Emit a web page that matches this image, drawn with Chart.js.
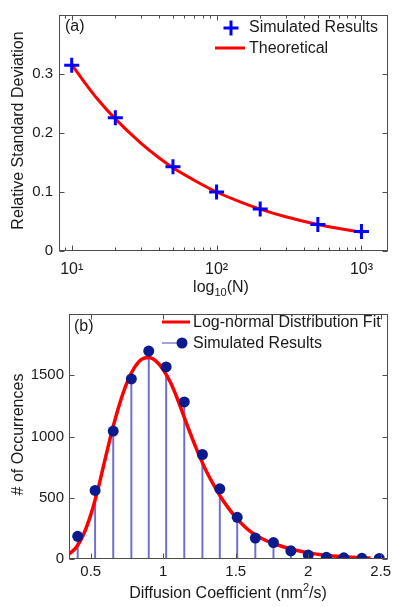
<!DOCTYPE html>
<html><head><meta charset="utf-8">
<script src="https://cdn.jsdelivr.net/npm/chart.js@4.4.0/dist/chart.umd.min.js"></script>
<style>
html,body{margin:0;padding:0;background:#fff;}
#wrap{position:relative;width:400px;height:607px;background:#fff;}
canvas{position:absolute;left:0;}
#c1{top:0;} #c2{top:300px;}
</style></head><body>
<div id="wrap"><canvas id="c1" width="400" height="300"></canvas><canvas id="c2" width="400" height="307"></canvas></div>
<script>
// ---------- Panel (a) data ----------
const sampleSizes = [10, 20, 50, 100, 200, 500, 1000];
const simulatedRSD = [0.315, 0.226, 0.143, 0.100, 0.071, 0.045, 0.033];
const theoryN = [10, 12, 15, 20, 30, 40, 50, 70, 100, 150, 200, 300, 500, 700, 1000];
const theoryRSD = [0.316, 0.289, 0.258, 0.224, 0.183, 0.158, 0.141, 0.120, 0.100, 0.082, 0.071, 0.058, 0.045, 0.038, 0.032];
const logTickValues = [9, 10, 20, 30, 40, 50, 60, 70, 80, 90, 100, 200, 300, 400, 500, 600, 700, 800, 900, 1000];
const logTickLabels = {10: '10\u00B9', 100: '10\u00B2', 1000: '10\u00B3'};

// ---------- Panel (b) data ----------
const diffCoeff = [0.41, 0.53, 0.655, 0.78, 0.90, 1.02, 1.145, 1.27, 1.39, 1.51, 1.635, 1.76, 1.88, 2.00, 2.125, 2.245, 2.37, 2.49];
const occurrences = [185, 560, 1044, 1470, 1697, 1568, 1282, 853, 573, 340, 171, 134, 67, 32, 14, 10, 6, 5];
const fitD = [0.35, 0.40, 0.45, 0.50, 0.55, 0.60, 0.65, 0.70, 0.75, 0.80, 0.85, 0.90, 0.95, 1.00, 1.05, 1.10, 1.15, 1.20, 1.25, 1.30, 1.35, 1.40, 1.45, 1.50, 1.60, 1.70, 1.80, 1.90, 2.00, 2.10, 2.20, 2.30, 2.43];
const fitCounts = [40, 95, 200, 360, 570, 820, 1060, 1270, 1440, 1560, 1630, 1645, 1615, 1545, 1440, 1300, 1140, 985, 840, 710, 600, 500, 415, 340, 225, 155, 110, 75, 50, 33, 22, 14, 8];

const FONT = 'Arial, "Liberation Sans", sans-serif';
const TEXT = '#1a1a1a';
const BOX = '#4d4d4d';
Chart.defaults.font.family = FONT;
Chart.defaults.color = TEXT;

function richText(ctx, parts, cx, cy) {
  let total = 0;
  parts.forEach(p => { ctx.font = p.size + 'px ' + FONT; p.w = ctx.measureText(p.t).width; total += p.w; });
  let x = cx - total / 2;
  ctx.textAlign = 'left'; ctx.textBaseline = 'middle';
  parts.forEach(p => { ctx.font = p.size + 'px ' + FONT; ctx.fillText(p.t, x, cy + p.dy); x += p.w; });
}

function framePlugin(extra, isMajor) {
  return {
    id: 'frame',
    afterDatasetsDraw(chart) {
      const ctx = chart.ctx, a = chart.chartArea, xs = chart.scales.x, ys = chart.scales.y;
      ctx.save();
      ctx.strokeStyle = BOX; ctx.lineWidth = 1;
      const L = Math.round(a.left) + 0.5, R = Math.round(a.right) - 0.5, T = Math.round(a.top) + 0.5, B = Math.round(a.bottom) - 0.5;
      ctx.beginPath();
      xs.ticks.forEach(t => {
        const p = Math.round(xs.getPixelForValue(t.value)) + 0.5;
        if (p < a.left - 0.5 || p > a.right + 0.5) return;
        const len = isMajor(t.value) ? 5 : 3;
        ctx.moveTo(p, B); ctx.lineTo(p, B - len);
        ctx.moveTo(p, T); ctx.lineTo(p, T + len);
      });
      ys.ticks.forEach(t => {
        const p = Math.round(ys.getPixelForValue(t.value)) + 0.5;
        ctx.moveTo(L, p); ctx.lineTo(L + 5, p);
        ctx.moveTo(R, p); ctx.lineTo(R - 5, p);
      });
      ctx.stroke();
      ctx.strokeRect(L, T, R - L, B - T);
      ctx.fillStyle = TEXT;
      extra(ctx, chart);
      ctx.restore();
    }
  };
}

const common = {
  responsive: false, animation: false, devicePixelRatio: 1, events: [],
  plugins: {legend: {display: false}, tooltip: {enabled: false}}
};

// ---------- Chart (a) ----------
new Chart(document.getElementById('c1'), {
  type: 'scatter',
  data: {datasets: [
    {type: 'line', data: theoryN.map((n, i) => ({x: n, y: theoryRSD[i]})), borderColor: '#ff0000', borderWidth: 3,
     pointRadius: 0, cubicInterpolationMode: 'monotone', fill: false, order: 2},
    {type: 'scatter', data: sampleSizes.map((n, i) => ({x: n, y: simulatedRSD[i]})), pointStyle: 'cross',
     pointRadius: 7.5, borderColor: '#0000ff', backgroundColor: '#0000ff', borderWidth: 3, order: 1}
  ]},
  options: Object.assign({}, common, {
    layout: {padding: {left: 0, top: 10, right: 12, bottom: 0}},
    scales: {
      x: {type: 'logarithmic', min: 8.17, max: 1525,
          afterBuildTicks: s => { s.ticks = logTickValues.map(v => ({value: v})); },
          afterFit: s => { s.height = 49; },
          grid: {display: false, drawTicks: false, tickLength: 0}, border: {display: false},
          ticks: {autoSkip: false, maxRotation: 0, minRotation: 0, padding: 9, font: {size: 16}, color: TEXT,
                  callback: v => logTickLabels[v] || ''}},
      y: {type: 'linear', min: 0, max: 0.4,
          afterFit: s => { s.width = 59; },
          grid: {display: false, drawTicks: false, tickLength: 0}, border: {display: false},
          ticks: {stepSize: 0.1, padding: 6, font: {size: 15}, color: TEXT,
                  callback: v => v > 0.39 ? '' : String(+v.toFixed(2))}}
    }
  }),
  plugins: [framePlugin((ctx, chart) => {
    ctx.font = '16px ' + FONT; ctx.textBaseline = 'middle'; ctx.textAlign = 'left';
    ctx.fillText('(a)', 65, 27);
    // legend
    ctx.strokeStyle = '#0000ff'; ctx.lineWidth = 3;
    ctx.beginPath(); ctx.moveTo(223.5, 28); ctx.lineTo(238.5, 28); ctx.moveTo(231, 20.5); ctx.lineTo(231, 35.5); ctx.stroke();
    ctx.fillText('Simulated Results', 249, 28);
    ctx.strokeStyle = '#ff0000'; ctx.lineWidth = 3;
    ctx.beginPath(); ctx.moveTo(215, 48); ctx.lineTo(245, 48); ctx.stroke();
    ctx.fillText('Theoretical', 249, 49);
    // axis titles
    ctx.save(); ctx.translate(19, 130.5); ctx.rotate(-Math.PI / 2); ctx.textAlign = 'center';
    ctx.fillText('Relative Standard Deviation', 0, 0); ctx.restore();
    richText(ctx, [{t: 'log', size: 16, dy: 0}, {t: '10', size: 11, dy: 5}, {t: '(N)', size: 16, dy: 0}], 221, 288);
  }, v => v in logTickLabels)]
});

// ---------- Chart (b) ----------
const STEM = '#6e6ed2';
const DOT = '#0b1a8c';
new Chart(document.getElementById('c2'), {
  type: 'scatter',
  data: {datasets: [
    {type: 'bar', data: diffCoeff.map((d, i) => ({x: d, y: occurrences[i]})), backgroundColor: STEM,
     barThickness: 1.3, grouped: false, order: 3},
    {type: 'line', data: fitD.map((d, i) => ({x: d, y: fitCounts[i]})), borderColor: '#ff0000', borderWidth: 3.5,
     pointRadius: 0, cubicInterpolationMode: 'monotone', fill: false, order: 2},
    {type: 'scatter', data: diffCoeff.map((d, i) => ({x: d, y: occurrences[i]})), pointRadius: 5.5,
     backgroundColor: DOT, borderWidth: 0, order: 1}
  ]},
  options: Object.assign({}, common, {
    layout: {padding: {left: 0, top: 10, right: 12, bottom: 0}},
    scales: {
      x: {type: 'linear', min: 0.35, max: 2.55, offset: false,
          afterFit: s => { s.height = 48; },
          grid: {display: false, drawTicks: false, tickLength: 0, offset: false}, border: {display: false},
          ticks: {stepSize: 0.5, includeBounds: false, autoSkip: false, maxRotation: 0, padding: 4, font: {size: 15}, color: TEXT,
                  callback: v => String(+v.toFixed(2))}},
      y: {type: 'linear', min: 0, max: 2000,
          afterFit: s => { s.width = 69; },
          grid: {display: false, drawTicks: false, tickLength: 0}, border: {display: false},
          ticks: {stepSize: 500, padding: 5, font: {size: 15}, color: TEXT,
                  callback: v => v >= 2000 ? '' : String(v)}}
    }
  }),
  plugins: [framePlugin((ctx, chart) => {
    ctx.font = '16px ' + FONT; ctx.textBaseline = 'middle'; ctx.textAlign = 'left';
    ctx.fillText('(b)', 74, 27);
    // legend
    ctx.strokeStyle = '#ff0000'; ctx.lineWidth = 3;
    ctx.beginPath(); ctx.moveTo(162, 22); ctx.lineTo(190, 22); ctx.stroke();
    ctx.fillText('Log-normal Distribution Fit', 193, 22.5);
    ctx.strokeStyle = STEM; ctx.lineWidth = 1.3;
    ctx.beginPath(); ctx.moveTo(162, 43); ctx.lineTo(182, 43); ctx.stroke();
    ctx.fillStyle = DOT; ctx.beginPath(); ctx.arc(182, 43, 5.5, 0, Math.PI * 2); ctx.fill();
    ctx.fillStyle = TEXT;
    ctx.fillText('Simulated Results', 193, 43.5);
    // axis titles
    ctx.save(); ctx.translate(19, 134.5); ctx.rotate(-Math.PI / 2); ctx.textAlign = 'center';
    ctx.fillText('# of Occurrences', 0, 0); ctx.restore();
    richText(ctx, [{t: 'Diffusion Coefficient (nm', size: 16, dy: 0}, {t: '2', size: 11, dy: -6}, {t: '/s)', size: 16, dy: 0}], 228, 294);
  }, v => true)]
});
</script>
</body></html>
